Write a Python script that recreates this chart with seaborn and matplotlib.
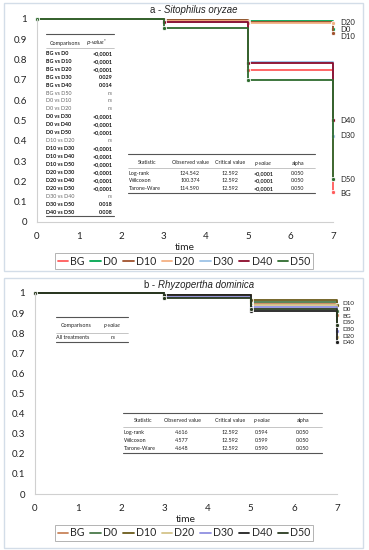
import numpy as np
import pandas as pd
import matplotlib
matplotlib.use("Agg")
import matplotlib.pyplot as plt
from matplotlib.lines import Line2D
from matplotlib.patches import Rectangle
import seaborn as sns

sns.set_theme(style="white")
plt.rcParams['font.family'] = ['Lato', 'DejaVu Sans']

W, H = 369, 550

# ---- data ----
tempi = [0, 3, 5, 7]
gruppi = ['BG', 'D0', 'D10', 'D20', 'D30', 'D40', 'D50']

# a - Sitophilus oryzae
surv_a = {
    'BG':  [1, 0.985, 0.75, 0.15],
    'D0':  [1, 0.995, 0.99, 0.95],
    'D10': [1, 0.995, 0.985, 0.93],
    'D20': [1, 0.99, 0.98, 0.98],
    'D30': [1, 0.985, 0.79, 0.425],
    'D40': [1, 0.985, 0.785, 0.50],
    'D50': [1, 0.955, 0.70, 0.21],
}
# b - Rhyzopertha dominica
surv_b = {
    'BG':  [1, 0.99, 0.947, 0.89],
    'D0':  [1, 0.98, 0.955, 0.91],
    'D10': [1, 0.99, 0.965, 0.94],
    'D20': [1, 0.985, 0.94, 0.78],
    'D30': [1, 0.98, 0.931, 0.81],
    'D40': [1, 0.99, 0.911, 0.754],
    'D50': [1, 0.975, 0.921, 0.84],
}

colori_a = ['#ff5a5a', '#00a651', '#a0522d', '#f4b183', '#9dc3e6', '#8b0a2a', '#2e6b2e']
colori_b = ['#c8845a', '#4a7a4a', '#6b5a1a', '#d4c48a', '#9090e0', '#202020', '#2a3a20']

# etichette finali a destra (posizione y in valore di sopravvivenza)
etichette_a = ['D20', 'D0', 'D10', 'D40', 'D30', 'D50', 'BG']
pos_etichette_a = [0.985, 0.95, 0.913, 0.50, 0.425, 0.21, 0.141]
etichette_b = ['D10', 'D0', 'BG', 'D50', 'D30', 'D20', 'D40']
pos_etichette_b = [0.95, 0.917, 0.884, 0.851, 0.818, 0.785, 0.752]

# tabella confronti a
confronti_a = ['BG vs D0', 'BG vs D10', 'BG vs D20', 'BG vs D30', 'BG vs D40', 'BG vs D50',
               'D0 vs D10', 'D0 vs D20', 'D0 vs D30', 'D0 vs D40', 'D0 vs D50',
               'D10 vs D20', 'D10 vs D30', 'D10 vs D40', 'D10 vs D50',
               'D20 vs D30', 'D20 vs D40', 'D20 vs D50', 'D30 vs D40', 'D30 vs D50', 'D40 vs D50']
pvalori_a = ['<0,0001', '<0,0001', '<0,0001', '0.029', '0.014', 'ns',
             'ns', 'ns', '<0,0001', '<0,0001', '<0,0001',
             'ns', '<0,0001', '<0,0001', '<0,0001',
             '<0,0001', '<0,0001', '<0,0001', 'ns', '0.018', '0.008']

# tabelle statistiche
statistiche = ['Log-rank', 'Wilcoxon', 'Tarone-Ware']
osservato_a = ['124.542', '100.374', '114.590']
osservato_b = ['4.616', '4.577', '4.648']
critico = ['12.592', '12.592', '12.592']
p_stat_a = ['<0,0001', '<0,0001', '<0,0001']
p_stat_b = ['0.594', '0.599', '0.590']
alpha = ['0.050', '0.050', '0.050']


def fx(x):
    return x / W


def fy(y):
    return 1 - y / H


fig = plt.figure(figsize=(W / 100, H / 100), dpi=100)

# cornici dei pannelli
for y0, y1 in [(3, 271), (278, 548)]:
    fig.add_artist(Rectangle((fx(4), fy(y1)), fx(363) - fx(4), fy(y0) - fy(y1),
                             transform=fig.transFigure, fill=False,
                             edgecolor='#d3dde8', lw=1.0))


def hline(x0, x1, y, lw=0.7, color='#555555'):
    fig.add_artist(Line2D([fx(x0), fx(x1)], [fy(y), fy(y)], transform=fig.transFigure,
                          color=color, lw=lw))


def txt(x, y, s, **kw):
    kw.setdefault('fontsize', 3.9)
    kw.setdefault('va', 'center')
    kw.setdefault('color', '#222222')
    fig.text(fx(x), fy(y), s, **kw)


def pannello(rect, surv, colori, titolo, specie, split_x, title_y, etichette, pos_et,
             label_x, label_fs, time_y, legend_y):
    l, r, t, b = rect
    ax = fig.add_axes([fx(l), fy(b), fx(r) - fx(l), fy(t) - fy(b)])
    df = pd.DataFrame([(g, tt, v) for g in gruppi for tt, v in zip(tempi, surv[g])],
                      columns=['gruppo', 'time', 'surv'])
    sns.lineplot(data=df, x='time', y='surv', hue='gruppo', hue_order=gruppi,
                 palette=colori, drawstyle='steps-post', marker='o', markersize=3,
                 markeredgewidth=0.6, lw=1.3, errorbar=None, legend=False, ax=ax)
    for ln in ax.lines:
        ln.set_clip_on(False)
    ax.set_xlim(0, 7)
    ax.set_ylim(0, 1)
    ax.set_xticks(range(8))
    ax.set_yticks(np.arange(0, 1.01, 0.1))
    ax.set_yticklabels(['0'] + [f'{v:.1f}' for v in np.arange(0.1, 0.95, 0.1)] + ['1'])
    ax.tick_params(labelsize=7, length=3, color='#d0d0d0', width=0.6, pad=4,
                   direction='out', labelcolor='#222222')
    for s in ['top', 'right']:
        ax.spines[s].set_visible(False)
    for s in ['left', 'bottom']:
        ax.spines[s].set_color('#d0d0d0')
        ax.spines[s].set_linewidth(0.8)
    ax.set_xlabel('')
    ax.set_ylabel('')
    ax.patch.set_alpha(0)

    # titolo
    fig.text(fx(split_x), fy(title_y), titolo, ha='right', va='center', fontsize=6.9,
             family='Liberation Sans', color='#222222')
    fig.text(fx(split_x), fy(title_y), specie, ha='left', va='center', fontsize=6.9,
             family='Liberation Sans', style='italic', color='#222222')

    # etichette a destra
    for e, v in zip(etichette, pos_et):
        ax.text(label_x, v, e, fontsize=label_fs, va='center', ha='left', color='#222222',
                clip_on=False)

    txt((l + r) / 2, time_y, 'time', fontsize=7.4, ha='center')

    handles = [Line2D([0], [0], color=c, lw=1.3) for c in colori]
    fig.legend(handles, gruppi, loc='center', bbox_to_anchor=(fx(184), fy(legend_y)),
               ncol=7, fontsize=7.6, handlelength=1.0, handletextpad=0.2,
               columnspacing=0.55, frameon=True, fancybox=False, edgecolor='#a0a0a0',
               borderpad=0.2, borderaxespad=0).get_frame().set_linewidth(0.7)
    return ax


ax_a = pannello((37, 333, 19, 222), surv_a, colori_a, 'a - ', 'Sitophilus oryzae', 164, 10,
                etichette_a, pos_etichette_a, 7.18, 5.6, 247, 261)
ax_b = pannello((35, 337, 293, 494), surv_b, colori_b, 'b - ', 'Rhyzopertha dominica', 158, 285,
                etichette_b, pos_etichette_b, 7.12, 4.5, 519, 533)

# ---- tabella confronti a ----
hline(45.5, 114, 34, lw=0.8)
txt(65, 43.3, 'Comparisons', ha='center')
txt(97, 43.3, r'$p$-value$^{*}$', ha='center', style='italic')
hline(45.5, 114, 48, lw=0.4, color='#999999')
for i, (c, p) in enumerate(zip(confronti_a, pvalori_a)):
    y = 53.3 + i * 7.95
    peso = 'normal' if p == 'ns' else 'bold'
    col = '#666666' if p == 'ns' else '#111111'
    txt(46, y, c, ha='left', weight=peso, color=col)
    txt(113, y, p, ha='right', weight=peso, color=col, style='italic' if p == 'ns' else 'normal')
hline(45.5, 114, 215.7, lw=0.8)


# ---- tabelle statistiche ----
def tab_stat(x0, x1, y_top, y_head, y_rule, righe_y, y_bot, cols, oss, pv, p_bold):
    hline(x0, x1, y_top, lw=0.8)
    txt(cols[0], y_head, 'Statistic', ha='center')
    txt(cols[1], y_head, 'Observed value', ha='center')
    txt(cols[2], y_head, 'Critical value', ha='center')
    txt(cols[3], y_head, 'p-value', ha='center', style='italic')
    txt(cols[4], y_head, 'alpha', ha='center')
    hline(x0, x1, y_rule, lw=0.4, color='#999999')
    for i, y in enumerate(righe_y):
        txt(x0 + 0.5, y, statistiche[i], ha='left')
        txt(cols[1], y, oss[i], ha='center')
        txt(cols[2], y, critico[i], ha='center')
        txt(cols[3], y, pv[i], ha='center', weight='bold' if p_bold else 'normal')
        txt(cols[4], y, alpha[i], ha='center')
    hline(x0, x1, y_bot, lw=0.8)


tab_stat(128, 315, 154, 163, 168, [173.3, 181, 189], 193.3,
         [147.5, 190, 229.7, 263.5, 298], osservato_a, p_stat_a, True)

# ---- tabella confronti b ----
hline(56, 128, 316.7, lw=0.8)
txt(76, 326, 'Comparisons', ha='center')
txt(112, 326, 'p-value', ha='center', style='italic')
hline(56, 128, 333, lw=0.4, color='#999999')
txt(56.5, 337.3, 'All treatments', ha='left')
txt(113, 337.3, 'ns', ha='center', style='italic')
hline(56, 128, 341.7, lw=0.8)

tab_stat(123, 322, 412.7, 420.7, 427, [432.7, 440.3, 448.3], 452.7,
         [143, 182, 230, 262, 303], osservato_b, p_stat_b, False)

fig.savefig('out.png', dpi=100)
